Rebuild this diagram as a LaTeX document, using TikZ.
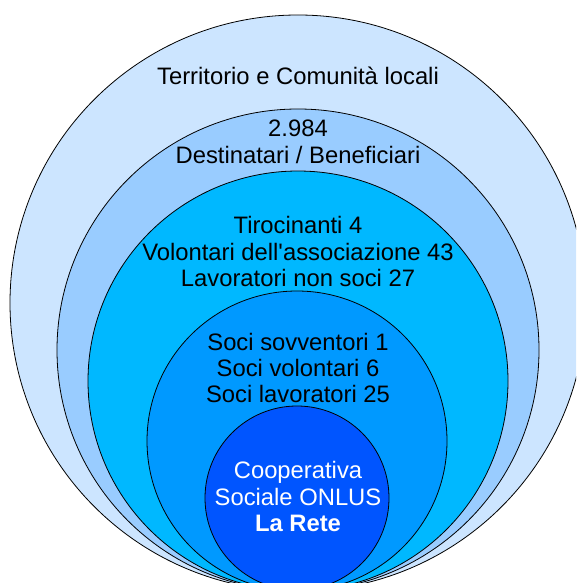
\documentclass[tikz,border=0pt]{standalone}
\usepackage{fontspec}
\setmainfont{Liberation Sans}
\definecolor{ringA}{HTML}{CCE5FF}
\definecolor{ringB}{HTML}{99CCFF}
\definecolor{ringC}{HTML}{00B8FF}
\definecolor{ringD}{HTML}{0099FF}
\definecolor{ringE}{HTML}{0055FF}
\begin{document}
\begin{tikzpicture}[x=1pt,y=-1pt,
  ring/.style={draw=black,line width=0.8pt},
  lbl/.style={anchor=base,inner sep=0pt,font=\fontsize{23.8}{27}\selectfont},
  wlbl/.style={lbl,text=white}]
\useasboundingbox (0,0) rectangle (576,583);
\begin{scope}
\clip (0,0) rectangle (576,583);
\draw[ring,fill=ringA] (298,303) circle[radius=288];
\draw[ring,fill=ringB] (298,350) circle[radius=241];
\draw[ring,fill=ringC] (298,381) circle[radius=210];
\draw[ring,fill=ringD] (297,441) circle[radius=150];
\draw[ring,fill=ringE] (297,498) circle[radius=92];
\end{scope}
\node[lbl] (t1) at (298,85) {Territorio e Comunità locali};
\node[lbl] (d1) at (298,136) {2.984};
\node[lbl] (d2) at (298,163) {Destinatari / Beneficiari};
\node[lbl] (v1) at (298,233) {Tirocinanti 4};
\node[lbl] (v2) at (298,260) {Volontari dell\textquotesingle associazione 43};
\node[lbl] (v3) at (298,286) {Lavoratori non soci 27};
\node[lbl] (s1) at (298,350) {Soci sovventori 1};
\node[lbl] (s2) at (298,376) {Soci volontari 6};
\node[lbl] (s3) at (298,402) {Soci lavoratori 25};
\node[wlbl] (c1) at (298,478) {Cooperativa};
\node[wlbl] (c2) at (298,505) {Sociale ONLUS};
\node[wlbl,font=\fontsize{23.8}{27}\selectfont\bfseries] (c3) at (298,531) {La Rete};
\end{tikzpicture}
\end{document}
